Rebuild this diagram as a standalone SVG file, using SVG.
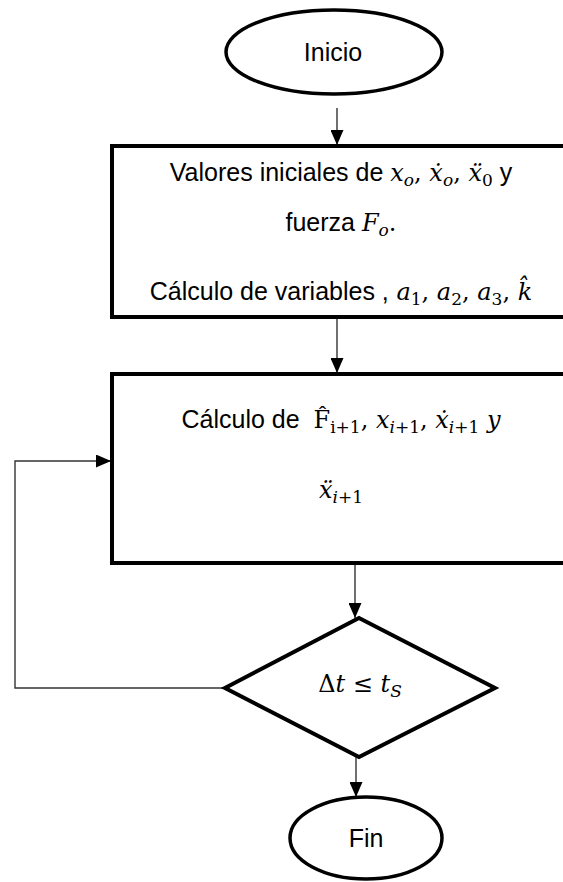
<svg xmlns="http://www.w3.org/2000/svg" width="563" height="882" viewBox="0 0 563 882">
<style>
.shape{fill:#fff;stroke:#000;stroke-width:4}
.term{fill:#fff;stroke:#000;stroke-width:3.5}
.t{font-family:"Liberation Sans",Arial,sans-serif;font-size:25px;fill:#000}
.m{font-family:"DejaVu Serif","Liberation Serif",serif;font-style:italic;font-size:24px}
.r{font-family:"DejaVu Serif","Liberation Serif",serif;font-style:normal;font-size:24px}
.t .s{font-size:17px}
.conn{fill:none;stroke:#333;stroke-width:1.4}
</style>
<defs>
<marker id="ah" markerUnits="userSpaceOnUse" viewBox="0 0 15 13" markerWidth="15" markerHeight="13" refX="15" refY="6.5" orient="auto">
<path d="M0,0 L15,6.5 L0,13 z" fill="#000"/>
</marker>
</defs>
<g id="connectors">
<line class="conn" x1="337" y1="108" x2="337" y2="145" marker-end="url(#ah)"/>
<line class="conn" x1="337" y1="318" x2="337" y2="373" marker-end="url(#ah)"/>
<line class="conn" x1="355" y1="564" x2="355" y2="618" marker-end="url(#ah)"/>
<line class="conn" x1="356" y1="757" x2="356" y2="797" marker-end="url(#ah)"/>
<polyline class="conn" points="225,688 15,688 15,461 111,461" marker-end="url(#ah)"/>
</g>
<g id="inicio">
<ellipse class="term" cx="334" cy="52" rx="108" ry="42"/>
<text class="t" x="333" y="61" text-anchor="middle">Inicio</text>
</g>
<g id="valores">
<rect class="shape" x="112" y="146" width="460" height="171"/>
<text class="t" x="341" y="181" text-anchor="middle">Valores iniciales de <tspan class="m">x</tspan><tspan class="m s" dy="5">o</tspan><tspan class="r" dy="-5">, </tspan><tspan class="m">ẋ</tspan><tspan class="m s" dy="5">o</tspan><tspan class="r" dy="-5">, </tspan><tspan class="m">ẍ</tspan><tspan class="r s" dy="5">0</tspan><tspan dy="-5"> y</tspan></text>
<text class="t" x="341" y="231" text-anchor="middle">fuerza <tspan class="m">F</tspan><tspan class="m s" dy="5">o</tspan><tspan class="r" dy="-5">.</tspan></text>
<text class="t" x="341" y="300" text-anchor="middle">Cálculo de variables ,<tspan class="m"> a</tspan><tspan class="r s" dy="5">1</tspan><tspan class="r" dy="-5">, </tspan><tspan class="m">a</tspan><tspan class="r s" dy="5">2</tspan><tspan class="r" dy="-5">, </tspan><tspan class="m">a</tspan><tspan class="r s" dy="5">3</tspan><tspan class="r" dy="-5">, </tspan><tspan class="m">k̂</tspan></text>
</g>
<g id="calculo">
<rect class="shape" x="112" y="374" width="460" height="189"/>
<text class="t" x="341" y="428" text-anchor="middle" xml:space="preserve">Cálculo de  <tspan class="r">F̂</tspan><tspan class="r s" dy="5">i+1</tspan><tspan class="r" dy="-5">, </tspan><tspan class="m">x</tspan><tspan class="m s" dy="5">i</tspan><tspan class="r s">+1</tspan><tspan class="r" dy="-5">, </tspan><tspan class="m">ẋ</tspan><tspan class="m s" dy="5">i</tspan><tspan class="r s">+1</tspan><tspan class="m" dy="-5"> y</tspan></text>
<text class="t" x="341" y="498" text-anchor="middle"><tspan class="m">ẍ</tspan><tspan class="m s" dy="5">i</tspan><tspan class="r s">+1</tspan></text>
</g>
<g id="decision">
<polygon class="shape" points="359,618 495,688 359,757 225,688"/>
<text class="t" x="360" y="692" text-anchor="middle"><tspan class="r">Δ</tspan><tspan class="m">t</tspan><tspan class="r"> ≤ </tspan><tspan class="m">t</tspan><tspan class="m s" dy="5">S</tspan></text>
</g>
<g id="fin">
<ellipse class="term" cx="366" cy="838" rx="76" ry="41"/>
<text class="t" x="366" y="847" text-anchor="middle">Fin</text>
</g>
</svg>
